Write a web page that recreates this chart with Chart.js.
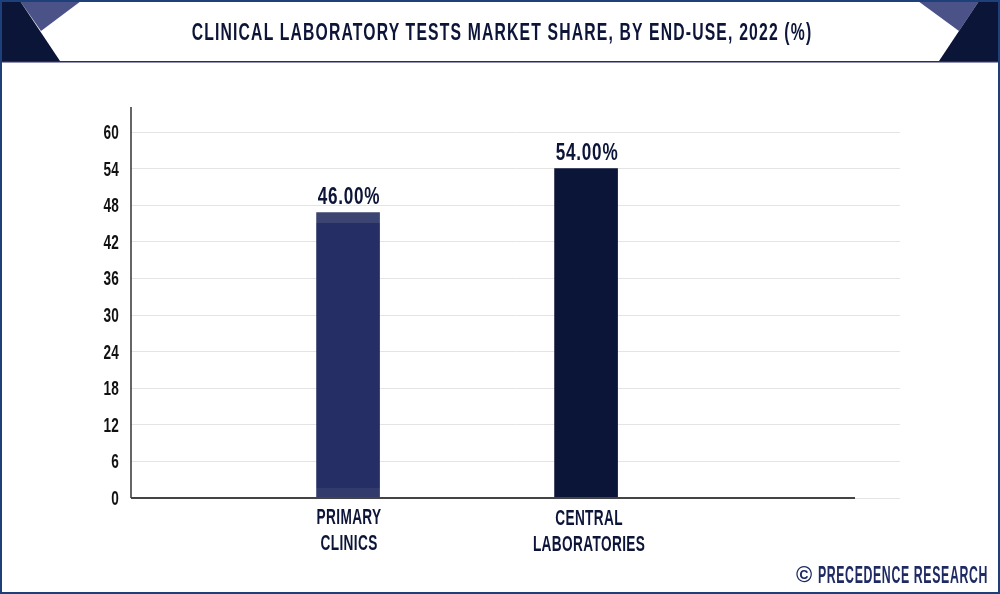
<!DOCTYPE html>
<html>
<head>
<meta charset="utf-8">
<title>Clinical Laboratory Tests Market Share</title>
<script src="https://cdn.jsdelivr.net/npm/chart.js@4"></script>
<style>
  html, body { margin: 0; padding: 0; background: #fff; }
  #wrap { position: relative; width: 1000px; height: 594px; overflow: hidden; }
  #grafico { position: absolute; left: 0; top: 0; }
  .texto { position: absolute; font-family: "Liberation Sans", sans-serif; font-weight: 700; white-space: nowrap; }
  #titulo { left: 2px; width: 1000px; top: 17px; text-align: center; font-size: 24px; line-height: 30px; letter-spacing: 1.8px; color: #0c1438; transform: scaleX(0.655); }
  #rodape { right: 12px; top: 561px; font-size: 23px; line-height: 28px; letter-spacing: 1.2px; color: #1f2a63; transform: scaleX(0.535); transform-origin: right center; }
  #copy { left: 796px; top: 561px; font-size: 22px; line-height: 28px; color: #1f2a63; }
</style>
</head>
<body>
<div id="wrap">
  <canvas id="grafico" width="1000" height="594"></canvas>
  <div id="titulo" class="texto">CLINICAL LABORATORY TESTS MARKET SHARE, BY END-USE, 2022 (%)</div>
  <div id="copy" class="texto">©</div>
  <div id="rodape" class="texto">PRECEDENCE RESEARCH</div>
</div>
<script>
// Dados
const categorias = [['PRIMARY', 'CLINICS'], ['CENTRAL', 'LABORATORIES']];
const alturasBarras = [46.8, 54];
const rotulosValores = ['46.00%', '54.00%'];
const yTicks = [0, 6, 12, 18, 24, 30, 36, 42, 48, 54, 60];
const posicoesX = [1, 2];

const corBarra1 = '#252f66';
const corFaixaTopo = '#3c4572';
const corFaixaBase = '#323b6c';
const corBarra2 = '#0b1538';
const fonte = '"Liberation Sans", sans-serif';

// Texto estreito: nao ha fonte condensada instalada, entao comprime no eixo x
function textoEstreito(c, texto, x, y, escala, alinhar) {
  c.save();
  c.translate(x, y);
  c.scale(escala, 1);
  c.textAlign = alinhar;
  c.fillText(texto, 0, 0);
  c.restore();
}

// Cabecalho e moldura
const moldura = {
  id: 'moldura',
  beforeDraw(chart) {
    const c = chart.ctx;
    c.save();
    c.fillStyle = '#ffffff';
    c.fillRect(0, 0, 1000, 594);

    function poligono(cor, pts) {
      c.fillStyle = cor;
      c.beginPath();
      pts.forEach((p, i) => i ? c.lineTo(p[0], p[1]) : c.moveTo(p[0], p[1]));
      c.closePath();
      c.fill();
    }
    poligono('#4a5288', [[20, 1], [81, 1], [41, 31]]);
    poligono('#0b1538', [[1, 1], [20, 1], [60, 61], [1, 61]]);
    poligono('#4a5288', [[918, 1], [979, 1], [959, 31]]);
    poligono('#0b1538', [[979, 1], [999, 1], [999, 61], [939, 61]]);

    c.fillStyle = '#2b2a66';
    c.fillRect(0, 61, 1000, 1.5);
    c.strokeStyle = '#1d3f7a';
    c.lineWidth = 2;
    c.strokeRect(1, 1, 998, 592);
    c.restore();
  }
};

// Eixos escuros, rotulos dos eixos e rotulos em cima das barras
const detalhes = {
  id: 'detalhes',
  afterDatasetsDraw(chart) {
    const c = chart.ctx;
    const area = chart.chartArea;
    const sx = chart.scales.x;
    const sy = chart.scales.y;
    const y0 = sy.getPixelForValue(0);
    c.save();
    c.strokeStyle = '#333333';
    c.lineWidth = 1.5;
    c.beginPath();
    c.moveTo(area.left, area.top);
    c.lineTo(area.left, y0);
    c.stroke();
    c.strokeStyle = '#444444';
    c.lineWidth = 2;
    c.beginPath();
    c.moveTo(area.left, y0);
    c.lineTo(855, y0);
    c.stroke();

    c.textBaseline = 'alphabetic';

    // numeros do eixo y
    c.font = '700 20px ' + fonte;
    c.letterSpacing = '0.3px';
    c.fillStyle = '#111111';
    yTicks.forEach(v => {
      textoEstreito(c, String(v), 119, sy.getPixelForValue(v) + 7, 0.68, 'right');
    });

    // categorias
    c.font = '700 22px ' + fonte;
    c.letterSpacing = '0.6px';
    c.fillStyle = '#0c1438';
    posicoesX.forEach((v, i) => {
      const desvio = i === 0 ? 0 : 0.5;
      categorias[i].forEach((linha, n) => {
        textoEstreito(c, linha, sx.getPixelForValue(v) + (i === 0 ? 1 : 3), 524 + desvio + n * 26, 0.62, 'center');
      });
    });

    // valores
    c.font = '700 23px ' + fonte;
    c.letterSpacing = '1px';
    chart.getDatasetMeta(0).data.forEach((barra, i) => {
      textoEstreito(c, rotulosValores[i], barra.x + 1, barra.y - 8.5, 0.745, 'center');
    });
    c.restore();
  }
};

new Chart(document.getElementById('grafico').getContext('2d'), {
  type: 'bar',
  data: {
    datasets: [{
      data: posicoesX.map((x, i) => ({ x: x, y: alturasBarras[i] })),
      barThickness: 63,
      backgroundColor: function (ctx) {
        if (ctx.dataIndex === 1) return corBarra2;
        const area = ctx.chart.chartArea;
        if (!area) return corBarra1;
        const s = ctx.chart.scales.y;
        const topo = s.getPixelForValue(alturasBarras[0]);
        const base = s.getPixelForValue(0);
        const g = ctx.chart.ctx.createLinearGradient(0, topo, 0, base);
        g.addColorStop(0, corFaixaTopo);
        g.addColorStop(0.035, corFaixaTopo);
        g.addColorStop(0.036, corBarra1);
        g.addColorStop(0.965, corBarra1);
        g.addColorStop(0.966, corFaixaBase);
        g.addColorStop(1, corFaixaBase);
        return g;
      }
    }]
  },
  options: {
    responsive: false,
    animation: false,
    layout: { padding: { left: 0, top: 107, right: 100, bottom: 0 } },
    plugins: { legend: { display: false }, tooltip: { enabled: false } },
    scales: {
      x: {
        type: 'linear',
        offset: false,
        min: 0.088,
        max: 3.319,
        afterFit(axis) { axis.height = 96; },
        afterBuildTicks(axis) { axis.ticks = posicoesX.map(v => ({ value: v })); },
        grid: { display: false },
        border: { display: false },
        ticks: { display: false }
      },
      y: {
        min: 0,
        max: 64.1,
        afterFit(axis) { axis.width = 131; },
        afterBuildTicks(axis) { axis.ticks = yTicks.map(v => ({ value: v })); },
        grid: { color: '#e4e4e4', lineWidth: 1, drawTicks: false },
        border: { display: false },
        ticks: { display: false }
      }
    }
  },
  plugins: [moldura, detalhes]
});
</script>
</body>
</html>
